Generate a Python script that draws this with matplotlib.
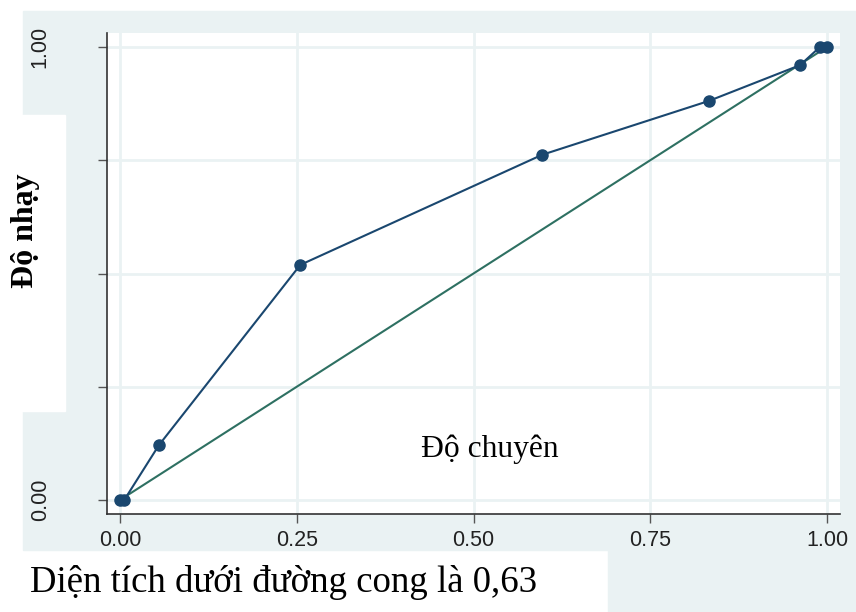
import matplotlib
matplotlib.use('Agg')
import matplotlib.pyplot as plt
from matplotlib.patches import Rectangle

# 1 - độ đặc hiệu và độ nhạy tại từng ngưỡng
fpr = [0.0, 0.006, 0.055, 0.255, 0.597, 0.833, 0.962, 0.990, 1.0]
tpr = [0.0, 0.0, 0.121, 0.519, 0.762, 0.881, 0.960, 1.0, 1.0]
ref = [0.0, 1.0]
xticks = [0.0, 0.25, 0.5, 0.75, 1.0]
xticklabels = ['0.00', '0.25', '0.50', '0.75', '1.00']
yticks = [0.0, 0.25, 0.5, 0.75, 1.0]
yticklabels = ['0.00', '', '', '', '1.00']

W, H = 856, 612
bg = '#eaf2f3'
navy = '#1a476f'
green = '#2e7062'

fig = plt.figure(figsize=(W / 100, H / 100), dpi=100)
fig.patch.set_facecolor('white')

def box(x0, y0, x1, y1, color):
    # toạ độ pixel, gốc ở góc trên trái
    fig.patches.append(Rectangle((x0 / W, 1 - y1 / H), (x1 - x0) / W, (y1 - y0) / H,
                                 transform=fig.transFigure, color=color, zorder=-5))

box(23, 11, W, 550, bg)
box(0, 115, 65, 411, 'white')
box(608, 550, W, H, bg)

ax = fig.add_axes([107 / W, 1 - 514 / H, (840 - 107) / W, (514 - 33) / H])
ax.set_zorder(1)
ax.set_facecolor('white')
ax.plot(fpr, tpr, color=navy, lw=1.5, marker='o', ms=8, zorder=3)
ax.plot(ref, ref, color=green, lw=1.5, zorder=2)

ax.set_xlim(-0.0184, 1.0184)
ax.set_ylim(-0.0309, 1.0309)
ax.set_xticks(xticks)
ax.set_xticklabels(xticklabels)
ax.set_yticks(yticks)
ax.set_yticklabels(yticklabels, rotation=90, va='center')
ax.grid(True, color=bg, lw=2)
ax.set_axisbelow(True)
for s in ['top', 'right']:
    ax.spines[s].set_visible(False)
for s in ['left', 'bottom']:
    ax.spines[s].set_color('#333333')
    ax.spines[s].set_linewidth(1.2)
ax.tick_params(direction='out', length=6.5, width=1, color='#555555',
               labelsize=15.5, labelcolor='#222222')
ax.tick_params(axis='x', pad=5)
ax.tick_params(axis='y', pad=34)
for lab in ax.get_xticklabels() + ax.get_yticklabels():
    lab.set_family('Liberation Sans')

ax.text(0.523, 0.113, 'Độ chuyên', family='Liberation Serif', fontsize=22.7,
        ha='center', va='center', transform=ax.transData)
fig.text(26 / W, 1 - 231 / H, 'Độ nhạy', family='Liberation Serif', fontsize=23,
         fontweight='bold', rotation=90, ha='center', va='center')
fig.text(30 / W, 1 - 582 / H, 'Diện tích dưới đường cong là 0,63',
         family='Liberation Serif', fontsize=26.5, ha='left', va='center')

fig.savefig('out.png', dpi=100, facecolor=fig.get_facecolor())
